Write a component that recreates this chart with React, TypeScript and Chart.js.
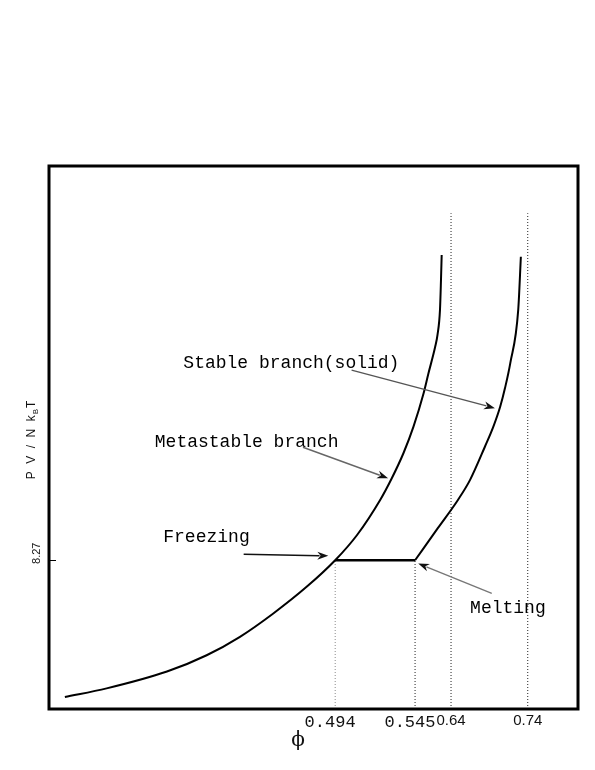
import React, { useEffect, useRef } from 'react';
import { Chart, registerables } from 'chart.js';

Chart.register(...registerables);

// Schematic axis units (0..100 on both axes)
const X_TICK_POS = [54.1, 69.2, 76.0, 90.5];
const X_TICK_LABELS = ['0.494', '0.545', '0.64', '0.74'];
const Y_TICK_POS = [27.4];
const Y_TICK_LABELS = ['8.27'];

// Metastable (fluid) branch
const FLUID_X = [3.0, 10.9, 22.3, 29.8, 36.1, 42.4, 48.7, 54.1, 58.2, 62.6, 64.8, 67.0, 68.9, 70.8, 71.7, 73.0, 73.44, 73.91, 74.1, 74.23];
const FLUID_Y = [2.2, 3.8, 6.9, 9.9, 13.3, 17.6, 22.5, 27.4, 32.0, 38.5, 42.5, 47.1, 52.0, 58.1, 61.7, 66.7, 68.9, 73.5, 79.0, 83.6];

// Stable (solid) branch
const SOLID_X = [69.2, 73.5, 77.3, 79.6, 82.4, 84.0, 85.3, 86.2, 87.2, 88.7, 89.2];
const SOLID_Y = [27.4, 33.3, 38.5, 42.2, 48.3, 52.0, 55.7, 59.1, 63.7, 73.5, 83.3];

// Coexistence tie line
const TIE_X = [54.1, 69.2];
const TIE_Y = [27.4, 27.4];

// Vertical dotted guides
const GUIDE_X = [54.1, 69.2, 76.0, 90.5];
const GUIDE_TOP = [27.4, 27.4, 91.3, 91.3];
const GUIDE_COLORS = ['#8a8a8a', '#222', '#222', '#222'];

// Annotations
const NOTE_TEXT = ['Stable branch(solid)', 'Metastable branch', 'Freezing', 'Melting'];
const NOTE_X = [25.4, 20.0, 21.6, 79.6];
const NOTE_Y = [62.8, 48.2, 30.8, 17.6];

const ARROW_X0 = [57.2, 48.0, 36.8, 83.7];
const ARROW_Y0 = [62.4, 48.2, 28.5, 21.3];
const ARROW_X1 = [84.3, 64.1, 52.8, 69.8];
const ARROW_Y1 = [55.4, 42.5, 28.2, 26.8];
const ARROW_COLORS = ['#555', '#666', '#111', '#777'];

const pts = (xs: number[], ys: number[]) => xs.map((x, i) => ({ x, y: ys[i] }));

const overlay = {
  id: 'overlay',
  afterDatasetsDraw(chart: any) {
    const { ctx, chartArea: a, scales } = chart;
    const sx = scales.x;
    const sy = scales.y;
    ctx.save();
    // frame
    ctx.strokeStyle = '#000';
    ctx.lineWidth = 3;
    ctx.strokeRect(a.left, a.top, a.right - a.left, a.bottom - a.top);

    // annotation texts
    ctx.font = '18px "Liberation Mono", monospace';
    ctx.fillStyle = '#000';
    ctx.textAlign = 'left';
    ctx.textBaseline = 'alphabetic';
    NOTE_TEXT.forEach((t, i) => {
      ctx.fillText(t, sx.getPixelForValue(NOTE_X[i]), sy.getPixelForValue(NOTE_Y[i]));
    });

    // arrows
    ARROW_X0.forEach((_, i) => {
      const x0 = sx.getPixelForValue(ARROW_X0[i]);
      const y0 = sy.getPixelForValue(ARROW_Y0[i]);
      const x1 = sx.getPixelForValue(ARROW_X1[i]);
      const y1 = sy.getPixelForValue(ARROW_Y1[i]);
      const ang = Math.atan2(y1 - y0, x1 - x0);
      const len = 11;
      const hw = 4;
      ctx.strokeStyle = ARROW_COLORS[i];
      ctx.lineWidth = 1.4;
      ctx.beginPath();
      ctx.moveTo(x0, y0);
      ctx.lineTo(x1 - Math.cos(ang) * len * 0.8, y1 - Math.sin(ang) * len * 0.8);
      ctx.stroke();
      ctx.fillStyle = '#111';
      ctx.beginPath();
      ctx.moveTo(x1, y1);
      ctx.lineTo(x1 - Math.cos(ang) * len - Math.sin(ang) * hw, y1 - Math.sin(ang) * len + Math.cos(ang) * hw);
      ctx.lineTo(x1 - Math.cos(ang) * len * 0.7, y1 - Math.sin(ang) * len * 0.7);
      ctx.lineTo(x1 - Math.cos(ang) * len + Math.sin(ang) * hw, y1 - Math.sin(ang) * len - Math.cos(ang) * hw);
      ctx.closePath();
      ctx.fill();
    });

    // x-axis title (phi)
    ctx.fillStyle = '#111';
    ctx.font = '20px "DejaVu Serif", "Liberation Serif", serif';
    ctx.textAlign = 'center';
    ctx.textBaseline = 'middle';
    ctx.fillText('\u03D5', 298, 741);

    // y-axis title: PV / N k_B T
    ctx.translate(31, 440);
    ctx.rotate(-Math.PI / 2);
    ctx.textBaseline = 'alphabetic';
    ctx.textAlign = 'left';
    const big = '12px "Liberation Sans", Arial, sans-serif';
    const small = '8px "Liberation Sans", Arial, sans-serif';
    const parts: [string, string, number, number][] = [
      ['P', big, 0, 7.5],
      ['V', big, 0, 7.5],
      ['/', big, 0, 7.5],
      ['N', big, 0, 7.5],
      ['k', big, 0, 1],
      ['B', small, 3, 1],
      ['T', big, 0, 0],
    ];
    let total = 0;
    parts.forEach(([t, f, , g]) => {
      ctx.font = f;
      total += ctx.measureText(t).width + g;
    });
    let cx = -total / 2;
    parts.forEach(([t, f, dy, g]) => {
      ctx.font = f;
      ctx.fillText(t, cx, 4 + dy);
      cx += ctx.measureText(t).width + g;
    });
    ctx.restore();
  },
};

export default function App() {
  const ref = useRef<HTMLCanvasElement | null>(null);
  useEffect(() => {
    if (!ref.current) return;
    const curve = {
      showLine: true,
      borderColor: '#000',
      borderWidth: 2,
      pointRadius: 0,
      cubicInterpolationMode: 'monotone',
    };
    const datasets: any[] = [
      { ...curve, data: pts(FLUID_X, FLUID_Y) },
      { ...curve, data: pts(SOLID_X, SOLID_Y) },
      {
        data: pts(TIE_X, TIE_Y),
        showLine: true,
        borderColor: '#000',
        borderWidth: 2.5,
        pointRadius: 0,
      },
      ...GUIDE_X.map((gx, i) => ({
        data: [
          { x: gx, y: 0 },
          { x: gx, y: GUIDE_TOP[i] },
        ],
        showLine: true,
        borderColor: GUIDE_COLORS[i],
        borderWidth: 1,
        borderDash: [1, 2],
        pointRadius: 0,
      })),
    ];
    const chart = new Chart(ref.current, {
      type: 'scatter',
      data: { datasets },
      options: {
        responsive: false,
        animation: false,
        layout: { padding: { left: 0, top: 166, right: 17, bottom: 0 } },
        plugins: { legend: { display: false }, tooltip: { enabled: false } },
        scales: {
          x: {
            type: 'linear',
            min: 0,
            max: 100,
            afterFit: (s: any) => {
              s.height = 61;
            },
            afterBuildTicks: (s: any) => {
              s.ticks = X_TICK_POS.map((v) => ({ value: v }));
            },
            grid: { display: false, drawTicks: false },
            border: { display: false },
            ticks: {
              autoSkip: false,
              minRotation: 0,
              maxRotation: 0,
              padding: 3,
              color: '#111',
              // monospaced labels carry a trailing blank, as in the original figure
              callback: (_v: any, i: number) => (i < 2 ? X_TICK_LABELS[i] + ' ' : X_TICK_LABELS[i]),
              font: (c: any) =>
                c.index < 2
                  ? { family: '"Liberation Mono", monospace', size: 17 }
                  : { family: '"Liberation Sans", Arial, sans-serif', size: 15 },
            },
          },
          y: {
            type: 'linear',
            min: 0,
            max: 100,
            afterFit: (s: any) => {
              s.width = 49;
            },
            afterBuildTicks: (s: any) => {
              s.ticks = Y_TICK_POS.map((v) => ({ value: v }));
            },
            grid: {
              display: true,
              drawOnChartArea: false,
              drawTicks: true,
              tickLength: -7,
              color: '#000',
              lineWidth: 1,
            },
            border: { display: false },
            ticks: {
              autoSkip: false,
              minRotation: 90,
              maxRotation: 90,
              crossAlign: 'center',
              padding: 8,
              labelOffset: -7,
              color: '#111',
              font: { family: '"Liberation Sans", Arial, sans-serif', size: 11 },
              callback: (_v: any, i: number) => Y_TICK_LABELS[i],
            },
          },
        },
      } as any,
      plugins: [overlay],
    });
    return () => chart.destroy();
  }, []);
  return (
    <div style={{ position: 'absolute', left: 0, top: 0, width: 595, height: 770, background: '#fff' }}>
      <canvas ref={ref} width={595} height={770} style={{ display: 'block' }} />
    </div>
  );
}
